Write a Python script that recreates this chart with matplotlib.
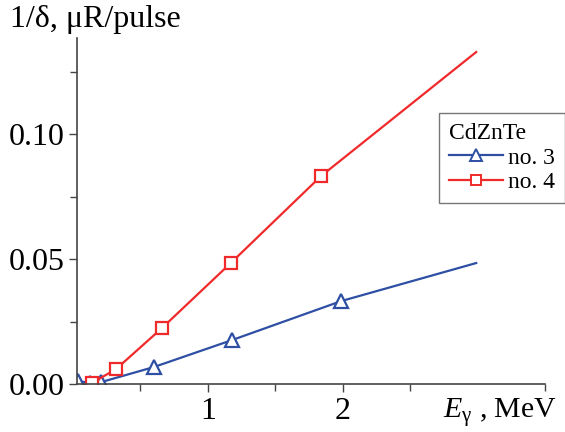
import matplotlib
matplotlib.use("Agg")
from matplotlib import pyplot as plt
from matplotlib.ticker import FixedLocator

plt.rcParams['font.family'] = ['Liberation Serif', 'DejaVu Serif']
plt.rcParams['mathtext.fontset'] = 'custom'
plt.rcParams['mathtext.rm'] = 'Liberation Serif'
plt.rcParams['mathtext.it'] = 'Liberation Serif:italic'

# no. 3 (blue triangles), measured points + line end
e3 = [0.04, 0.13, 0.21, 0.60, 1.18, 1.99]
r3 = [0.0012, 0.0004, 0.0008, 0.0068, 0.0176, 0.0332]
e3_line = e3 + [2.99]
r3_line = r3 + [0.0484]

# no. 4 (red squares)
e4 = [0.14, 0.32, 0.66, 1.17, 1.84]
r4 = [0.0004, 0.0060, 0.0224, 0.0484, 0.0832]
e4_line = e4 + [2.99]
r4_line = r4 + [0.1328]

x_major = [1, 2]
x_minor = [0.5, 1.5, 2.5, 3.5]

blue = '#2e4fa3'
red = '#f02a2a'

fig = plt.figure(figsize=(5.65, 4.32), dpi=100)
ax = fig.add_axes([0.1363, 0.111, 0.8283, 0.801])

ax.plot(e3_line, r3_line, color=blue, lw=1.6)
ax.plot(e3, r3, ls='none', marker='^', ms=10, mfc='white', mec=blue, mew=1.6)
ax.plot(e4_line, r4_line, color=red, lw=1.6)
ax.plot(e4, r4, ls='none', marker='s', ms=8, mfc='white', mec=red, mew=1.6)

# legend proxies
h3, = ax.plot([], [], color=blue, lw=1.6, marker='^', ms=9, mfc='white', mec=blue, mew=1.4)
h4, = ax.plot([], [], color=red, lw=1.6, marker='s', ms=7, mfc='white', mec=red, mew=1.4)
leg = ax.legend([h3, h4], ['no. 3', 'no. 4'], title='CdZnTe', loc='upper left',
                bbox_to_anchor=(0.777, 0.738), bbox_transform=fig.transFigure,
                fontsize=17, title_fontsize=17, frameon=True, fancybox=False,
                edgecolor='#555555', handlelength=2.3, handletextpad=0.2,
                borderpad=0.42, labelspacing=0.13, borderaxespad=0)
leg._legend_box.align = 'left'
leg.get_frame().set_linewidth(1.0)

ax.set_xlim(0.03, 3.5)
ax.set_ylim(0, 0.1384)
ax.xaxis.set_major_locator(FixedLocator(x_major))
ax.xaxis.set_minor_locator(FixedLocator(x_minor))
ax.yaxis.set_major_locator(FixedLocator([0, 0.05, 0.10]))
ax.yaxis.set_minor_locator(FixedLocator([0.025, 0.075, 0.125]))
ax.yaxis.set_major_formatter(plt.FormatStrFormatter('%.2f'))

for s in ['top', 'right']:
    ax.spines[s].set_visible(False)
for s in ['left', 'bottom']:
    ax.spines[s].set_color('#444444')
    ax.spines[s].set_linewidth(1.2)

ax.tick_params(which='both', direction='out', colors='#444444', labelcolor='black',
               labelsize=23, width=1.0)
ax.tick_params(which='major', length=6, pad=3)
ax.tick_params(which='minor', length=5)

fig.text(0.018, 0.938, '1/δ, μR/pulse', fontsize=23, ha='left', va='baseline')
fig.text(0.985, 0.032, r'$E_{\mathrm{γ}}$ , MeV', fontsize=21.5, ha='right', va='baseline')

fig.savefig('out.png', dpi=100)
